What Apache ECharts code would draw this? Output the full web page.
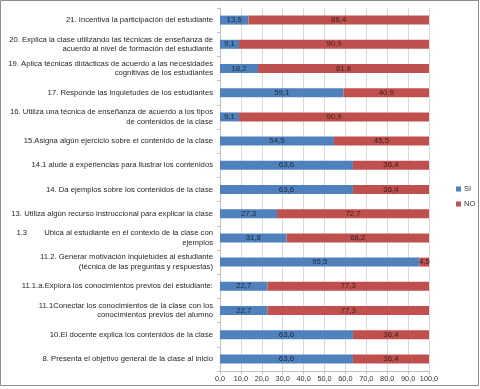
<!DOCTYPE html>
<html><head><meta charset="utf-8">
<script src="https://cdn.jsdelivr.net/npm/echarts@6/dist/echarts.min.js"></script>
<style>html,body{margin:0;padding:0;background:#fff}#c{width:480px;height:389px}</style>
</head><body><div id="c"></div>
<script>
const categories = [
  "21. Incentiva la participación del estudiante",
  "20. Explica la clase utilizando las técnicas de enseñanza de\nacuerdo al nivel de formación del estudiante",
  "19. Aplica técnicas didácticas de acuerdo a las necesidades\ncognitivas de los estudiantes",
  "17. Responde las inquietudes de los estudiantes",
  "16. Utiliza una técnica de enseñanza de acuerdo a los tipos\nde contenidos de la clase",
  "15.Asigna algún ejercicio sobre el contenido de la clase",
  "14.1 alude a experiencias para ilustrar los contenidos",
  "14. Da ejemplos sobre los contenidos de la clase",
  "13. Utiliza algún recurso instruccional para explicar la clase",
  "1.3        Ubica al estudiante en el contexto de la clase con\nejemplos",
  "11.2. Generar motivación inquietudes al estudiante\n(técnica de las preguntas y respuestas)",
  "11.1.a.Explora los conocimientos previos del estudiante:",
  "11.1Conectar los conocimientos de la clase con los\nconocimientos previos del alumno",
  "10.El docente explica los contenidos de la clase",
  "8. Presenta el objetivo general de la clase al inicio"
];
const siValues = [13.6, 9.1, 18.2, 59.1, 9.1, 54.5, 63.6, 63.6, 27.3, 31.8, 95.5, 22.7, 22.7, 63.6, 63.6];
const noValues = [86.4, 90.9, 81.8, 40.9, 90.9, 45.5, 36.4, 36.4, 72.7, 68.2, 4.5, 77.3, 77.3, 36.4, 36.4];
const seriesNames = ["SI", "NO"];

const fmt = v => v.toFixed(1).replace('.', ',');
const font = 'Liberation Sans, Arial, sans-serif';
const chart = echarts.init(document.getElementById('c'));
chart.setOption({
  animation: false,
  textStyle: {fontFamily: font},
  graphic: [{type: 'rect', shape: {x: 0.5, y: 0.5, width: 478, height: 385}, style: {fill: 'none', stroke: '#8c8c8c', lineWidth: 1}, silent: true}],
  grid: {left: 220, right: 51, top: 8, bottom: 18, containLabel: false},
  legend: {
    orient: 'vertical', left: 451, top: 180, itemWidth: 5, itemHeight: 5, itemGap: 7,
    icon: 'rect', textStyle: {fontSize: 7.5, color: '#333', fontFamily: font, padding: [0, 0, 0, -2]},
    data: seriesNames
  },
  xAxis: {
    type: 'value', min: 0, max: 100, interval: 10,
    axisLine: {show: true, lineStyle: {color: '#bfbfbf'}},
    axisTick: {show: true, length: 3, lineStyle: {color: '#bfbfbf'}},
    axisLabel: {fontSize: 7.3, color: '#333', margin: 4, formatter: v => fmt(v)},
    splitLine: {show: true, lineStyle: {color: '#d9d9d9'}}
  },
  yAxis: {
    type: 'category', inverse: true, data: categories,
    axisLine: {show: true, lineStyle: {color: '#bfbfbf'}},
    axisTick: {show: true, length: 3, lineStyle: {color: '#bfbfbf'}},
    axisLabel: {fontSize: 7.7, color: '#262626', margin: 7, align: 'right', lineHeight: 9.5, fontFamily: font}
  },
  series: [
    {name: seriesNames[0], type: 'bar', stack: 't', data: siValues, barWidth: 9,
     itemStyle: {color: '#4f81bd'},
     label: {show: true, position: 'inside', fontSize: 7.8, color: '#1f2a3a', formatter: p => fmt(p.value)}},
    {name: seriesNames[1], type: 'bar', stack: 't', data: noValues, barWidth: 9,
     itemStyle: {color: '#c0504d'},
     label: {show: true, position: 'inside', fontSize: 7.8, color: '#3a1f1f', formatter: p => fmt(p.value)}}
  ]
});
</script></body></html>
